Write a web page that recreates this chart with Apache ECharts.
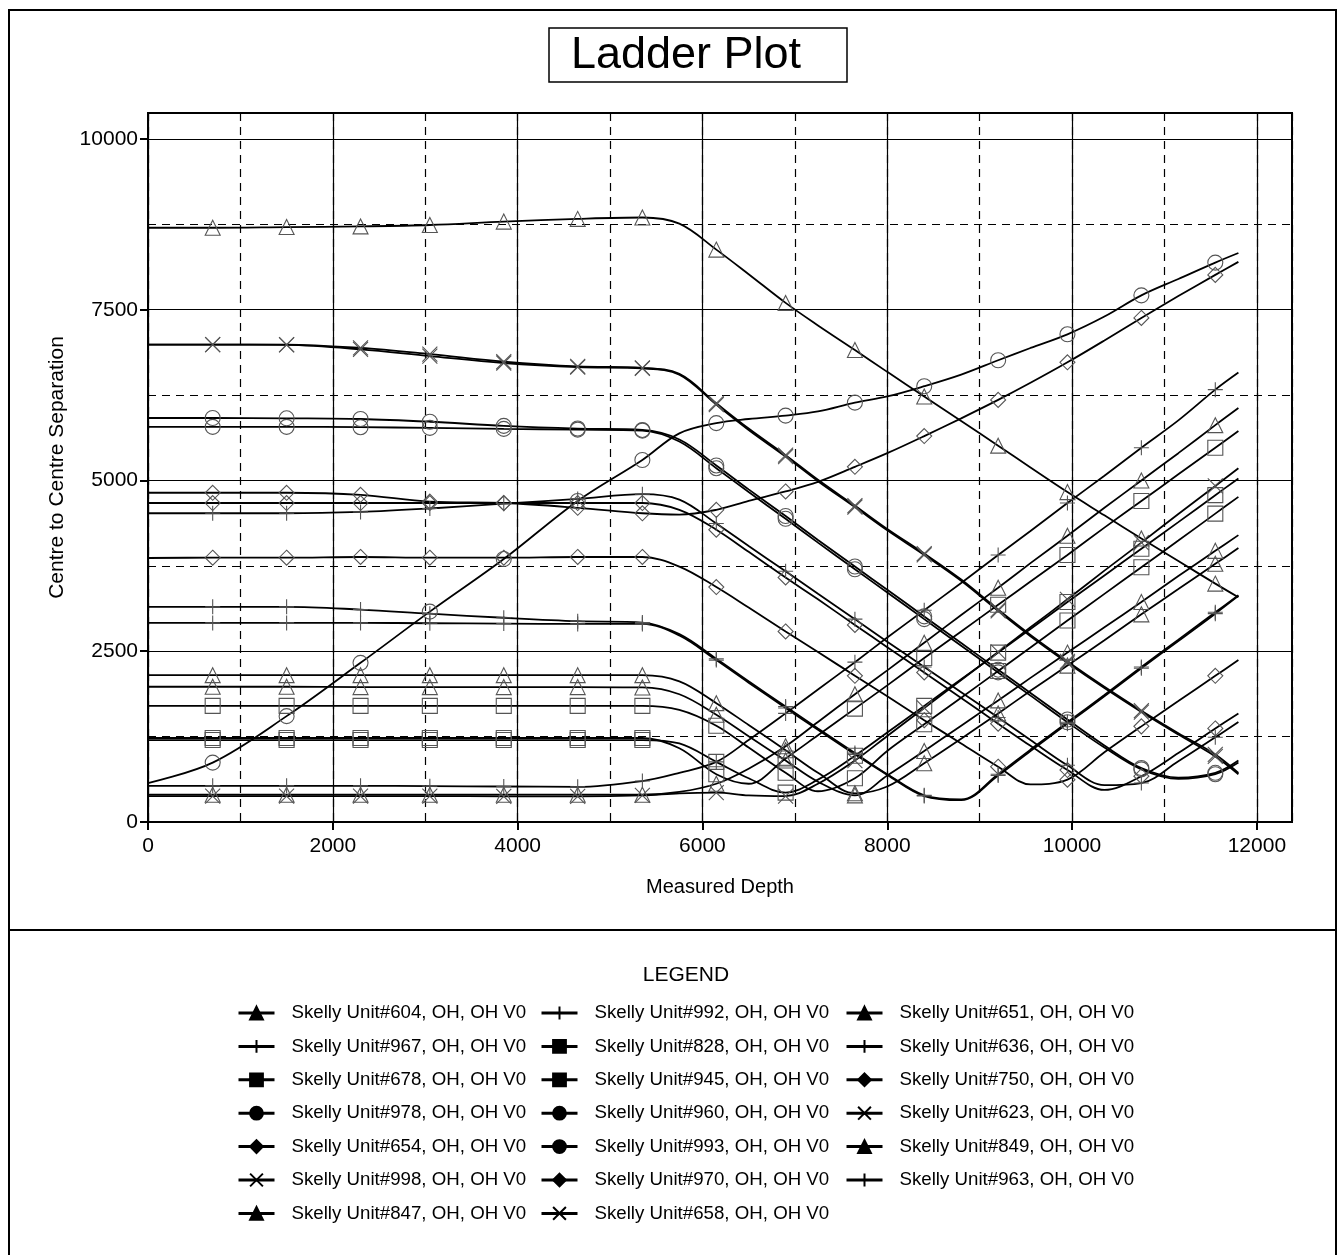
<!DOCTYPE html>
<html>
<head>
<meta charset="utf-8">
<title>Ladder Plot</title>
<script src="https://cdn.jsdelivr.net/npm/echarts@6/dist/echarts.min.js"></script>
<style>
  html, body { margin: 0; padding: 0; background: #fff; }
  #chart { width: 1344px; height: 1255px; }
</style>
</head>
<body>
<div id="chart"></div>
<script>
// measured depth stations shared by every offset well
const depth = [0, 700, 1500, 2300, 3050, 3850, 4650, 5350, 5750, 6150, 6500, 6900, 7250,
               7650, 8000, 8400, 8800, 9200, 9550, 9950, 10350, 10750, 11150, 11550, 11800];
// stations that carry a marker
const markerIdx = [1, 2, 3, 4, 5, 6, 7, 9, 11, 13, 15, 17, 19, 21, 23];

const xTicks = [0, 2000, 4000, 6000, 8000, 10000, 12000];
const yTicks = [0, 2500, 5000, 7500, 10000];

// centre to centre separation, one array per offset well
const unit604 = [8700, 8700, 8710, 8720, 8740, 8790, 8830, 8850, 8760, 8380, 8020, 7600, 7270, 6910, 6590, 6230, 5870, 5510, 5190, 4830, 4490, 4150, 3820, 3490, 3290];
const unit998 = [6990, 6990, 6990, 6940, 6850, 6740, 6670, 6650, 6560, 6130, 5760, 5370, 5010, 4630, 4290, 3930, 3550, 3110, 2740, 2350, 1980, 1630, 1300, 990, 720];
const unit658 = [6990, 6990, 6985, 6920, 6820, 6720, 6660, 6640, 6550, 6110, 5740, 5350, 4990, 4610, 4270, 3910, 3530, 3090, 2720, 2330, 1960, 1610, 1280, 960, 700];
const unit978 = [5915, 5915, 5910, 5900, 5860, 5800, 5760, 5740, 5600, 5220, 4870, 4480, 4130, 3740, 3400, 3010, 2620, 2230, 1890, 1500, 1120, 790, 650, 720, 900];
const unit960 = [5785, 5785, 5785, 5780, 5770, 5755, 5745, 5730, 5570, 5180, 4830, 4440, 4090, 3700, 3360, 2970, 2580, 2190, 1850, 1460, 1090, 770, 630, 700, 870];
const unit993 = [570, 870, 1550, 2330, 3080, 3850, 4700, 5300, 5690, 5840, 5900, 5950, 6010, 6140, 6230, 6380, 6550, 6760, 6940, 7140, 7400, 7710, 7950, 8190, 8330];
const unit750 = [4820, 4820, 4820, 4790, 4690, 4670, 4600, 4520, 4500, 4570, 4700, 4840, 4980, 5200, 5400, 5650, 5910, 6180, 6430, 6730, 7050, 7380, 7700, 8010, 8200];
const unit967 = [4520, 4520, 4520, 4540, 4590, 4660, 4730, 4800, 4720, 4370, 4040, 3670, 3340, 2970, 2640, 2270, 1900, 1530, 1200, 830, 540, 570, 890, 1240, 1465];
const unit654 = [4670, 4670, 4670, 4670, 4670, 4670, 4670, 4670, 4570, 4280, 3955, 3580, 3260, 2885, 2560, 2190, 1815, 1440, 1115, 760, 470, 670, 1010, 1370, 1590];
const unit970 = [3865, 3870, 3870, 3880, 3870, 3870, 3880, 3880, 3740, 3440, 3140, 2790, 2490, 2140, 1840, 1490, 1150, 810, 550, 620, 1020, 1400, 1770, 2140, 2370];
const unit992 = [3150, 3150, 3150, 3110, 3050, 2990, 2940, 2920, 2750, 2390, 2060, 1690, 1370, 1010, 700, 390, 330, 700, 1060, 1460, 1860, 2270, 2670, 3070, 3320];
const unit636 = [2915, 2915, 2915, 2915, 2910, 2905, 2900, 2900, 2730, 2370, 2040, 1670, 1350, 990, 690, 380, 320, 680, 1040, 1440, 1840, 2250, 2650, 3050, 3310];
const unit651 = [2150, 2150, 2150, 2150, 2150, 2150, 2150, 2150, 2060, 1740, 1420, 1050, 720, 420, 520, 860, 1220, 1590, 1920, 2290, 2660, 3040, 3410, 3780, 4010];
const unit847 = [1980, 1980, 1980, 1975, 1975, 1975, 1975, 1970, 1870, 1570, 1255, 900, 590, 390, 680, 1040, 1410, 1780, 2110, 2480, 2850, 3220, 3600, 3970, 4200];
const unit828 = [1700, 1700, 1700, 1700, 1700, 1700, 1700, 1700, 1640, 1410, 1090, 720, 450, 640, 1040, 1430, 1820, 2210, 2555, 2950, 3340, 3730, 4120, 4515, 4760];
const unit678 = [1230, 1230, 1230, 1230, 1230, 1230, 1230, 1230, 1080, 700, 560, 930, 1270, 1660, 2000, 2400, 2790, 3180, 3520, 3910, 4310, 4700, 5090, 5480, 5725];
const unit945 = [1200, 1200, 1200, 1200, 1200, 1200, 1200, 1200, 1150, 880, 640, 430, 620, 970, 1310, 1700, 2090, 2480, 2825, 3220, 3610, 4000, 4390, 4785, 5030];
const unit963 = [530, 530, 530, 530, 525, 520, 515, 600, 720, 880, 1200, 1590, 1940, 2340, 2700, 3100, 3500, 3910, 4260, 4670, 5070, 5480, 5880, 6330, 6580];
const unit849 = [400, 400, 400, 400, 400, 400, 400, 400, 440, 560, 780, 1110, 1465, 1870, 2220, 2625, 3030, 3430, 3790, 4190, 4600, 5000, 5400, 5810, 6060];
const unit623 = [380, 380, 380, 380, 380, 375, 375, 390, 420, 430, 390, 380, 560, 900, 1260, 1670, 2080, 2490, 2850, 3260, 3680, 4090, 4510, 4920, 5180];

const TRI = 'triangle';
const SQR = 'rect';
const CIR = 'circle';
const DIA = 'diamond';
const PLUS = 'path://M5,0L5,10M0,5L10,5';
const CROSS = 'path://M0,0L10,10M10,0L0,10';

const wells = [
  ['604', unit604, TRI], ['992', unit992, PLUS], ['651', unit651, TRI],
  ['967', unit967, PLUS], ['828', unit828, SQR], ['636', unit636, PLUS],
  ['678', unit678, SQR], ['945', unit945, SQR], ['750', unit750, DIA],
  ['978', unit978, CIR], ['960', unit960, CIR], ['623', unit623, CROSS],
  ['654', unit654, DIA], ['993', unit993, CIR], ['849', unit849, TRI],
  ['998', unit998, CROSS], ['970', unit970, DIA], ['963', unit963, PLUS],
  ['847', unit847, TRI], ['658', unit658, CROSS]
];

const legendCols = [
  ['604', '967', '678', '978', '654', '998', '847'],
  ['992', '828', '945', '960', '993', '970', '658'],
  ['651', '636', '750', '623', '849', '963']
];
const legendLeft = [237, 540, 845];

const FONT = '"Liberation Sans", Arial, sans-serif';

function wellName(id) {
  return 'Skelly Unit#' + id + ', OH, OH V0';
}

function points(values) {
  return depth.map(function (d, i) {
    const item = { value: [d, values[i]] };
    if (markerIdx.indexOf(i) < 0) item.symbol = 'none';
    return item;
  });
}

const chart = echarts.init(document.getElementById('chart'));

const option = {
  backgroundColor: '#fff',
  animation: false,
  title: {
    text: 'Ladder Plot',
    left: 686,
    top: 33,
    textAlign: 'center',
    padding: 0,
    textStyle: { fontFamily: FONT, fontSize: 45, fontWeight: 'normal', color: '#000' }
  },
  graphic: [
    { type: 'rect', shape: { x: 9, y: 10, width: 1327, height: 1262 },
      style: { fill: 'none', stroke: '#000', lineWidth: 2 } },
    { type: 'line', shape: { x1: 9, y1: 930, x2: 1336, y2: 930 },
      style: { stroke: '#000', lineWidth: 2 } },
    { type: 'rect', shape: { x: 549, y: 28, width: 298, height: 54 },
      style: { fill: 'none', stroke: '#000', lineWidth: 1.5 } },
    { type: 'text', x: 686, y: 975,
      style: { text: 'LEGEND', fontFamily: FONT, fontSize: 21, fill: '#000',
               align: 'center', verticalAlign: 'middle' } }
  ],
  legend: legendCols.map(function (col, k) {
    return {
      orient: 'vertical',
      left: legendLeft[k],
      top: 1003,
      padding: 0,
      itemGap: 13.4,
      itemWidth: 36,
      itemHeight: 16,
      selectedMode: false,
      data: col.map(wellName),
      textStyle: { fontFamily: FONT, fontSize: 18.7, color: '#000', lineHeight: 20, padding: [0, 0, 0, 12] },
      itemStyle: { color: '#000', borderColor: '#000', borderWidth: 2 },
      lineStyle: { color: '#000', width: 3 }
    };
  }),
  grid: {
    left: 148, top: 113, right: 52, bottom: 433,
    show: true, borderColor: '#000', borderWidth: 2
  },
  xAxis: [
    {
      type: 'value', min: 0, max: 12380, interval: 2000, position: 'bottom',
      name: 'Measured Depth', nameLocation: 'middle', nameGap: 55,
      nameTextStyle: { fontFamily: FONT, fontSize: 20, color: '#000' },
      axisLine: { show: true, lineStyle: { color: '#000', width: 2 } },
      axisTick: { show: true, length: 8, customValues: xTicks, lineStyle: { color: '#000', width: 2 } },
      axisLabel: {
        color: '#000', fontFamily: FONT, fontSize: 21, margin: 14,
        formatter: function (v) { return xTicks.indexOf(v) >= 0 ? String(v) : ''; }
      },
      splitLine: { show: true, lineStyle: { color: '#000', width: 1.2 } }
    },
    {
      type: 'value', min: 0, max: 12380, interval: 1000, position: 'top',
      axisLine: { show: false }, axisTick: { show: false }, axisLabel: { show: false },
      splitLine: { show: true, lineStyle: { color: '#000', width: 1.2, type: [8, 6] } }
    }
  ],
  yAxis: [
    {
      type: 'value', min: 0, max: 10380, interval: 2500, position: 'left',
      name: 'Centre to Centre Separation', nameLocation: 'middle', nameGap: 80,
      nameTextStyle: { fontFamily: FONT, fontSize: 21, color: '#000' },
      axisLine: { show: true, lineStyle: { color: '#000', width: 2 } },
      axisTick: { show: true, length: 8, customValues: yTicks, lineStyle: { color: '#000', width: 2 } },
      axisLabel: {
        color: '#000', fontFamily: FONT, fontSize: 21, margin: 10,
        formatter: function (v) { return yTicks.indexOf(v) >= 0 ? String(v) : ''; }
      },
      splitLine: { show: true, lineStyle: { color: '#000', width: 1.2 } }
    },
    {
      type: 'value', min: 0, max: 10380, interval: 1250, position: 'right',
      axisLine: { show: false }, axisTick: { show: false }, axisLabel: { show: false },
      splitLine: { show: true, lineStyle: { color: '#000', width: 1.2, type: [8, 6] } }
    }
  ],
  series: wells.map(function (w) {
    return {
      name: wellName(w[0]),
      type: 'line',
      xAxisIndex: 0,
      yAxisIndex: 0,
      smooth: 0.35,
      symbol: w[2],
      symbolSize: 15,
      silent: true,
      lineStyle: { color: '#000', width: 1.8 },
      itemStyle: { color: 'rgba(0,0,0,0)', borderColor: '#555', borderWidth: 1.1 },
      emphasis: { disabled: true },
      data: points(w[1])
    };
  })
};

chart.setOption(option);
</script>
</body>
</html>
